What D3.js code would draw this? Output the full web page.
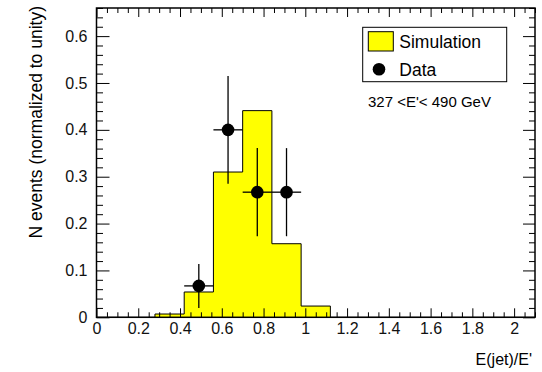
<!DOCTYPE html>
<html lang="en">
<head>
<meta charset="UTF-8">
<title>E(jet)/E' distribution</title>
<script src="https://d3js.org/d3.v7.min.js"></script>
<style>
  body { margin: 0; background: #fff; }
  svg { font-family: "Liberation Sans", Arial, Helvetica, sans-serif; }
  .axis path { display: none; }
  .axis line { stroke: #000; stroke-width: 1; }
  .axis text { font-size: 16px; fill: #111; }
</style>
</head>
<body>
<div id="chart"></div>
<script>
// histogram bins (simulation), 15 bins of 0.14 from 0 to 2.1
const binEdges = d3.range(16).map(i => +(i * 0.14).toFixed(2));
const simValues = [0, 0, 0.007, 0.054, 0.31, 0.441, 0.157, 0.024, 0, 0, 0, 0, 0, 0, 0];

// data points
const dataX = [0.49, 0.63, 0.77, 0.91];
const dataY = [0.067, 0.4, 0.267, 0.267];
const dataErr = [0.047, 0.115, 0.094, 0.094];
const dataXErr = [0.07, 0.07, 0.07, 0.07];

const xMajor = d3.range(0, 2.01, 0.2).map(v => +v.toFixed(2));
const yMajor = d3.range(0, 0.61, 0.1).map(v => +v.toFixed(2));

const W = 542, H = 372;
const mLeft = 96.5, mRight = 535, mTop = 8, mBottom = 317.3;

const svg = d3.select("#chart").append("svg")
    .attr("width", W)
    .attr("height", H);

const x = d3.scaleLinear().domain([0, 2.1]).range([mLeft, mRight]);
const y = d3.scaleLinear().domain([0, 0.66]).range([mBottom, mTop]);

// simulation histogram as a step outline
const pts = [[0, 0]];
simValues.forEach((v, i) => {
    pts.push([binEdges[i], v]);
    pts.push([binEdges[i + 1], v]);
});
pts.push([2.1, 0]);

const line = d3.line().x(d => x(d[0])).y(d => y(d[1]));

svg.append("path")
    .attr("d", line(pts))
    .attr("fill", "#ffff00")
    .attr("stroke", "#000")
    .attr("stroke-width", 1);

// axes (ticks point inside the frame)
const xMinor = d3.range(0, 43).map(i => +(i * 0.05).toFixed(2)).filter((v, i) => i % 4 !== 0);
const yMinor = d3.range(0, 34).map(i => +(i * 0.02).toFixed(2)).filter((v, i) => i % 5 !== 0);

svg.append("g").attr("class", "axis")
    .attr("transform", `translate(0,${mBottom})`)
    .call(d3.axisBottom(x).tickValues(xMajor).tickSize(-9).tickPadding(5)
        .tickFormat(d3.format("~g")));
svg.append("g").attr("class", "axis")
    .attr("transform", `translate(0,${mBottom})`)
    .call(d3.axisBottom(x).tickValues(xMinor).tickSize(-5).tickFormat(""));

svg.append("g").attr("class", "axis")
    .attr("transform", `translate(0,${mTop})`)
    .call(d3.axisTop(x).tickValues(xMajor).tickSize(-9).tickFormat(""));
svg.append("g").attr("class", "axis")
    .attr("transform", `translate(0,${mTop})`)
    .call(d3.axisTop(x).tickValues(xMinor).tickSize(-5).tickFormat(""));

svg.append("g").attr("class", "axis")
    .attr("transform", `translate(${mLeft},0)`)
    .call(d3.axisLeft(y).tickValues(yMajor).tickSize(-13).tickPadding(9)
        .tickFormat(d3.format("~g")));
svg.append("g").attr("class", "axis")
    .attr("transform", `translate(${mLeft},0)`)
    .call(d3.axisLeft(y).tickValues(yMinor).tickSize(-6.5).tickFormat(""));

svg.append("g").attr("class", "axis")
    .attr("transform", `translate(${mRight},0)`)
    .call(d3.axisRight(y).tickValues(yMajor).tickSize(-12).tickFormat(""));
svg.append("g").attr("class", "axis")
    .attr("transform", `translate(${mRight},0)`)
    .call(d3.axisRight(y).tickValues(yMinor).tickSize(-6).tickFormat(""));

// frame
svg.append("rect")
    .attr("x", mLeft).attr("y", mTop)
    .attr("width", mRight - mLeft).attr("height", mBottom - mTop)
    .attr("fill", "none")
    .attr("stroke", "#000")
    .attr("stroke-width", 1.5);

// data points with error bars
const pts2 = dataX.map((d, i) => ({ x: d, y: dataY[i], ey: dataErr[i], ex: dataXErr[i] }));
const dp = svg.append("g");
dp.selectAll(".ev").data(pts2).enter().append("line")
    .attr("x1", d => x(d.x)).attr("x2", d => x(d.x))
    .attr("y1", d => y(d.y - d.ey)).attr("y2", d => y(d.y + d.ey))
    .attr("stroke", "#000").attr("stroke-width", 1.3);
dp.selectAll(".eh").data(pts2).enter().append("line")
    .attr("x1", d => x(d.x - d.ex)).attr("x2", d => x(d.x + d.ex))
    .attr("y1", d => y(d.y)).attr("y2", d => y(d.y))
    .attr("stroke", "#000").attr("stroke-width", 1.3);
dp.selectAll("circle").data(pts2).enter().append("circle")
    .attr("cx", d => x(d.x)).attr("cy", d => y(d.y))
    .attr("r", 6.3).attr("fill", "#000");

// axis titles
svg.append("text")
    .attr("x", 532).attr("y", 365)
    .attr("text-anchor", "end")
    .style("font-size", "16px")
    .text("E(jet)/E'");

svg.append("text")
    .attr("transform", "translate(41.5,6) rotate(-90)")
    .attr("text-anchor", "end")
    .style("font-size", "17.5px")
    .text("N events (normalized to unity)");

// legend
const lg = svg.append("g");
lg.append("rect")
    .attr("x", 362.7).attr("y", 27.3)
    .attr("width", 144).attr("height", 54.4)
    .attr("fill", "#fff").attr("stroke", "#000").attr("stroke-width", 1);
lg.append("rect")
    .attr("x", 368.3).attr("y", 31.7)
    .attr("width", 25).attr("height", 19.3)
    .attr("fill", "#ffff00").attr("stroke", "#000").attr("stroke-width", 1);
lg.append("circle")
    .attr("cx", 379).attr("cy", 69.3).attr("r", 6.3).attr("fill", "#000");
lg.append("text").attr("x", 399.3).attr("y", 47.5)
    .style("font-size", "17.5px").text("Simulation");
lg.append("text").attr("x", 399.3).attr("y", 75.5)
    .style("font-size", "17.5px").text("Data");

svg.append("text")
    .attr("x", 368).attr("y", 107)
    .style("font-size", "15px")
    .text("327 <E'< 490 GeV");
</script>
</body>
</html>
